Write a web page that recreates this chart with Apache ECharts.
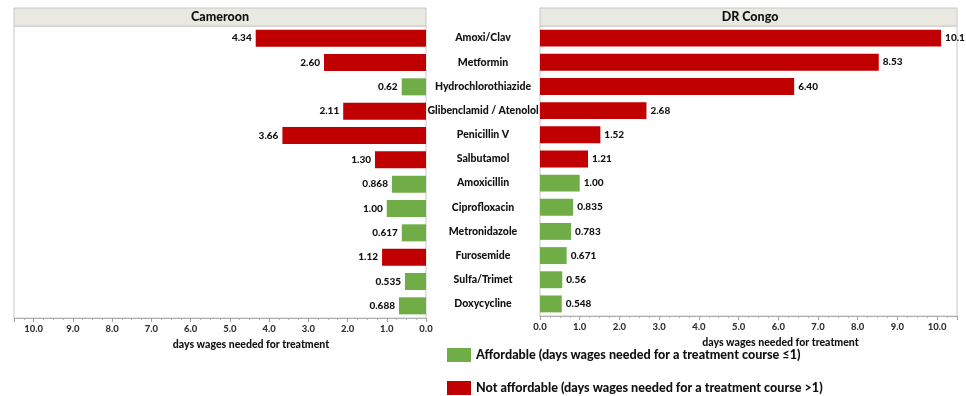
<!DOCTYPE html>
<html>
<head>
<meta charset="utf-8">
<script src="https://cdn.jsdelivr.net/npm/echarts@6/dist/echarts.min.js"></script>
<style>html,body{margin:0;padding:0;background:#fff}#c{width:966px;height:396px}</style>
</head>
<body>
<div id="c"></div>
<script>
const medicines = ['Amoxi/Clav', 'Metformin', 'Hydrochlorothiazide', 'Glibenclamid / Atenolol', 'Penicillin V', 'Salbutamol', 'Amoxicillin', 'Ciprofloxacin', 'Metronidazole', 'Furosemide', 'Sulfa/Trimet', 'Doxycycline'];
const cameroonValues = ['4.34', '2.60', '0.62', '2.11', '3.66', '1.30', '0.868', '1.00', '0.617', '1.12', '0.535', '0.688'];
const drCongoValues = ['10.1', '8.53', '6.40', '2.68', '1.52', '1.21', '1.00', '0.835', '0.783', '0.671', '0.56', '0.548'];
const axisTicks = [0, 1, 2, 3, 4, 5, 6, 7, 8, 9, 10];
const panelTitles = ['Cameroon', 'DR Congo'];
const axisTitle = 'days wages needed for treatment';
const legendNames = ['Affordable (days wages needed for a treatment course \u22641)', 'Not affordable (days wages needed for a treatment course >1)'];

const RED = '#c00000', GREEN = '#70ad47';
const FONT = 'Lato, "Open Sans", sans-serif';
const W = 900;

function split(vals, affordable) {
  return vals.map(s => {
    const v = parseFloat(s);
    return (v <= 1) === affordable ? v : '-';
  });
}
function makeLabel(vals, pos) {
  return {
    show: true, position: pos, distance: 4,
    fontFamily: FONT, fontWeight: W, fontSize: 10, color: '#111',
    formatter: p => vals[p.dataIndex]
  };
}
function xAxisCfg(idx, inverse, max, shift) {
  return {
    type: 'value', gridIndex: idx, min: 0, max: max, interval: 1, inverse: inverse,
    axisLine: { show: true, lineStyle: { color: '#b0b0b0', width: 1 } },
    axisTick: { show: true, length: 4, lineStyle: { color: '#a0a0a0' } },
    minorTick: { show: true, splitNumber: 4, length: 2, lineStyle: { color: '#b0b0b0' } },
    splitLine: { show: false },
    axisLabel: {
      showMaxLabel: false, margin: 6,
      fontFamily: FONT, fontWeight: W, fontSize: 9.5, color: '#333',
      formatter: v => axisTicks.indexOf(v) >= 0 ? v.toFixed(1) : ''
    },
    name: axisTitle, nameLocation: 'middle', nameGap: 19,
    nameTextStyle: { fontFamily: FONT, fontWeight: W, fontSize: 10.5, color: '#111', padding: [0, 0, 0, shift] }
  };
}

const chart = echarts.init(document.getElementById('c'), null, { renderer: 'canvas' });
const legendText = { fontFamily: FONT, fontWeight: W, fontSize: 12.6, color: '#111' };
const option = {
  animation: false,
  backgroundColor: '#fff',
  grid: [
    { left: 14, right: 540, top: 26, bottom: 78, show: true, borderColor: '#c8c8c8', borderWidth: 1 },
    { left: 540, right: 9, top: 26, bottom: 80, show: true, borderColor: '#c8c8c8', borderWidth: 1 }
  ],
  xAxis: [xAxisCfg(0, true, 10.5, 62), xAxisCfg(1, false, 10.5, 64)],
  yAxis: [
    { type: 'category', gridIndex: 0, data: medicines, inverse: true, axisLine: { show: false }, axisTick: { show: false }, axisLabel: { show: false } },
    { type: 'category', gridIndex: 1, data: medicines, inverse: true, axisLine: { show: false }, axisTick: { show: false },
      axisLabel: { show: true, align: 'center', margin: 57, fontFamily: FONT, fontWeight: W, fontSize: 10.5, color: '#111', padding: [6, 0, 0, 0] } }
  ],
  legend: [
    { left: 442, top: 343, itemWidth: 24, itemHeight: 14, icon: 'rect', selectedMode: false, data: [legendNames[0]], textStyle: legendText },
    { left: 442, top: 376, itemWidth: 24, itemHeight: 14, icon: 'rect', selectedMode: false, data: [legendNames[1]], textStyle: legendText }
  ],
  series: [
    { name: legendNames[0], type: 'bar', xAxisIndex: 0, yAxisIndex: 0, data: split(cameroonValues, true), barWidth: '70%', barGap: '-100%', itemStyle: { color: GREEN }, label: makeLabel(cameroonValues, 'left') },
    { name: legendNames[1], type: 'bar', xAxisIndex: 0, yAxisIndex: 0, data: split(cameroonValues, false), barWidth: '70%', barGap: '-100%', itemStyle: { color: RED }, label: makeLabel(cameroonValues, 'left') },
    { name: legendNames[0], type: 'bar', xAxisIndex: 1, yAxisIndex: 1, data: split(drCongoValues, true), barWidth: '70%', barGap: '-100%', itemStyle: { color: GREEN }, label: makeLabel(drCongoValues, 'right') },
    { name: legendNames[1], type: 'bar', xAxisIndex: 1, yAxisIndex: 1, data: split(drCongoValues, false), barWidth: '70%', barGap: '-100%', itemStyle: { color: RED }, label: makeLabel(drCongoValues, 'right') }
  ],
  graphic: [
    { type: 'rect', shape: { x: 14, y: 8, width: 412, height: 18 }, style: { fill: '#e9e9e2', stroke: '#c8c8c8', lineWidth: 1 } },
    { type: 'text', x: 220, y: 17, style: { text: panelTitles[0], align: 'center', verticalAlign: 'middle', fontFamily: FONT, fontWeight: W, fontSize: 12.5, fill: '#111' } },
    { type: 'rect', shape: { x: 540, y: 8, width: 417, height: 18 }, style: { fill: '#e9e9e2', stroke: '#c8c8c8', lineWidth: 1 } },
    { type: 'text', x: 750, y: 17, style: { text: panelTitles[1], align: 'center', verticalAlign: 'middle', fontFamily: FONT, fontWeight: W, fontSize: 12.5, fill: '#111' } }
  ]
};
chart.setOption(option);
</script>
</body>
</html>
